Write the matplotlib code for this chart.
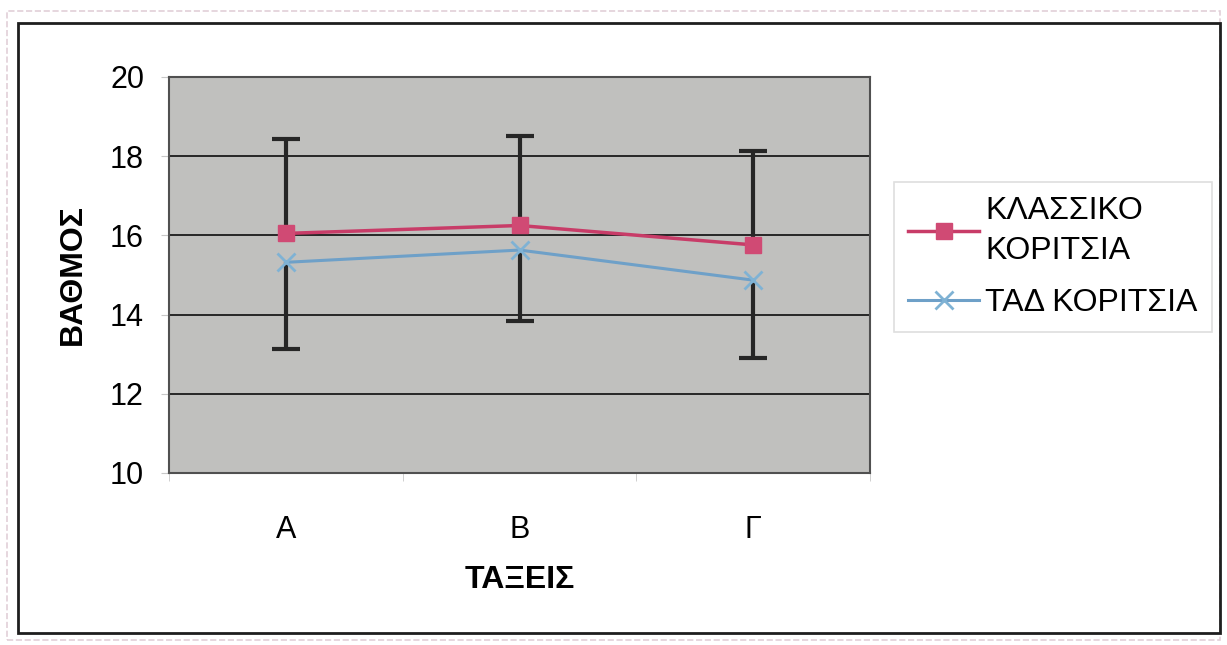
import matplotlib
matplotlib.use("Agg")
import matplotlib.pyplot as plt
from matplotlib.patches import Rectangle
import numpy as np

plt.rcParams['font.family'] = ['Liberation Sans', 'DejaVu Sans']

# data
classes = ["A", "B", "Γ"]
klassiko = [16.05, 16.25, 15.76]
klassiko_err_up = [2.38, 2.25, 2.37]
tad = [15.32, 15.63, 14.87]
tad_err_down = [2.20, 1.80, 1.97]
y_ticks = [10, 12, 14, 16, 18, 20]

fig = plt.figure(figsize=(12.27, 6.45), dpi=100)
ax = fig.add_axes([169 / 1227, 1 - 473 / 645, 701 / 1227, 396 / 645])
ax.set_facecolor("#c0c0be")

x = np.arange(len(classes))
k_top = np.array(klassiko) + np.array(klassiko_err_up)
t_bot = np.array(tad) - np.array(tad_err_down)

# classic - error bar upwards only, TAD - downwards only
ax.vlines(x, klassiko, k_top, color="#262626", lw=3, zorder=3)
ax.vlines(x, t_bot, tad, color="#262626", lw=3, zorder=3)
ax.plot(x, k_top, ls="none", marker="_", markersize=20, markeredgewidth=3,
        color="#262626", zorder=3)
ax.plot(x, t_bot, ls="none", marker="_", markersize=20, markeredgewidth=3,
        color="#262626", zorder=3)

ax.plot(x, klassiko, color="#c83c68", lw=2.5, marker="s", markersize=11,
        markerfacecolor="#d04a74", markeredgecolor="#d04a74",
        label="ΚΛΑΣΣΙΚΟ\nΚΟΡΙΤΣΙΑ", zorder=4)
ax.plot(x, tad, color="#6ea0c8", lw=2.2, marker="x", markersize=13,
        markeredgewidth=2, markeredgecolor="#7fb2d4",
        label="ΤΑΔ ΚΟΡΙΤΣΙΑ", zorder=4)

ax.set_ylim(10, 20)
ax.set_xlim(-0.5, len(classes) - 0.5)
ax.set_yticks(y_ticks)
ax.set_xticks(x)
ax.set_xticklabels(classes)
ax.set_xticks(np.arange(-0.5, len(classes), 1.0), minor=True)
ax.tick_params(axis="x", which="major", length=0, pad=30, labelsize=22)
ax.tick_params(axis="x", which="minor", length=6, color="#c8c8c8")
ax.tick_params(axis="y", length=6, color="#c8c8c8", pad=12, labelsize=22)

ax.yaxis.grid(True, color="#262626", lw=1.4)
ax.set_axisbelow(True)
for s in ax.spines.values():
    s.set_color("#505050")
    s.set_linewidth(1.5)

ax.set_ylabel("ΒΑΘΜΟΣ", fontsize=23, fontweight="bold", labelpad=16)
ax.set_xlabel("ΤΑΞΕΙΣ", fontsize=23, fontweight="bold", labelpad=15)

leg = ax.legend(loc="upper left", bbox_to_anchor=(894 / 1227, 1 - 182 / 645),
                bbox_transform=fig.transFigure, borderaxespad=0, fontsize=23,
                frameon=True, fancybox=False, handlelength=2.2,
                handletextpad=0.2, labelspacing=0.7, borderpad=0.45)
leg.get_frame().set_edgecolor("#d6d6d6")
leg.get_frame().set_linewidth(1.2)
for t in leg.get_texts():
    t.set_linespacing(1.4)

# outer frames
fig.patches.append(Rectangle((7 / 1227, 1 - 640 / 645), 1213 / 1227, 629 / 645,
                             transform=fig.transFigure, fill=False,
                             edgecolor="#e2cfd8", lw=1.2, linestyle="--"))
fig.patches.append(Rectangle((18 / 1227, 1 - 633 / 645), 1202 / 1227, 610 / 645,
                             transform=fig.transFigure, fill=False,
                             edgecolor="#1e1e1e", lw=2))

fig.savefig("out.png", dpi=100)
